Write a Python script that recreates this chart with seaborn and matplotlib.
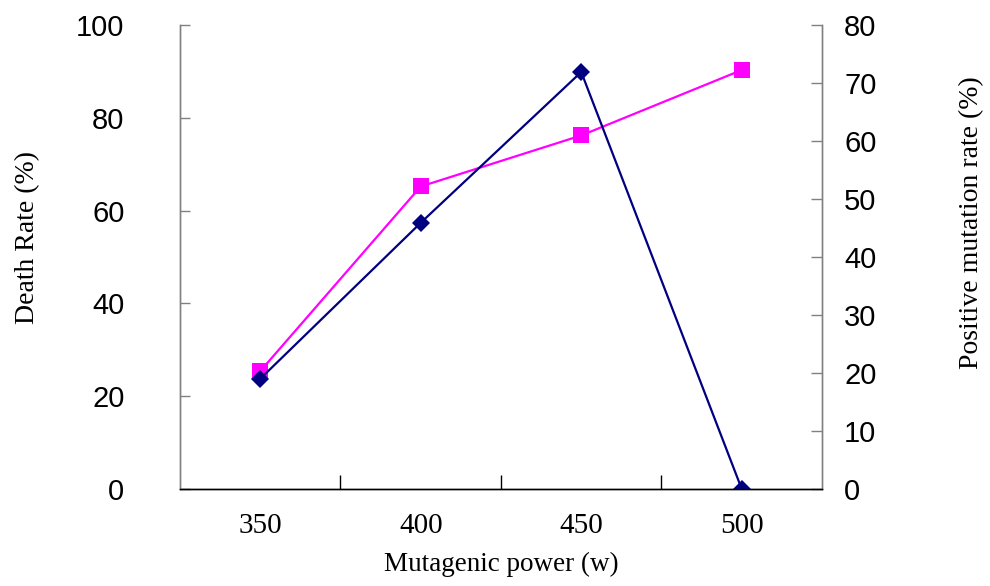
import pandas as pd
import seaborn as sns
import matplotlib.pyplot as plt
from matplotlib.ticker import FixedLocator

power = ['350', '400', '450', '500']
death_rate = [25.4, 65.2, 76.2, 90.3]
positive_rate = [19.0, 45.9, 71.9, 0.0]

df = pd.DataFrame({'power': power, 'death': death_rate, 'positive': positive_rate})

sns.set_theme(style='white', rc={'axes.grid': False, 'text.color': 'black',
                                 'xtick.color': 'black', 'ytick.color': 'black',
                                 'axes.labelcolor': 'black'})
plt.rcParams['font.family'] = ['Liberation Sans', 'DejaVu Sans']

fig = plt.figure(figsize=(9.9, 5.86), dpi=100)
ax = fig.add_axes([0.1818, 0.1655, 0.6485, 0.7918])

sns.lineplot(data=df, x='power', y='death', ax=ax, color='#FF00FF',
             marker='s', markersize=11, markeredgewidth=0, linewidth=1.6)
ax2 = ax.twinx()
sns.lineplot(data=df, x='power', y='positive', ax=ax2, color='#000080',
             marker='D', markersize=9.5, markeredgewidth=0, linewidth=1.6)

ax.set_xlim(-0.5, 3.5)
ax.set_ylim(0, 100)
ax.set_yticks(range(0, 101, 20))
ax2.set_ylim(0, 80)
ax2.set_yticks(range(0, 81, 10))

ax.set_xticks(range(len(power)))
ax.set_xticklabels(power, family='Liberation Serif', fontsize=21)
ax.xaxis.set_minor_locator(FixedLocator([0.5, 1.5, 2.5]))
ax.tick_params(axis='x', which='major', bottom=True, length=0, pad=17)
ax.tick_params(axis='x', which='minor', bottom=True, direction='in', length=10,
               width=1, color='black')
ax.tick_params(axis='y', left=True, direction='in', length=7, width=1,
               color='#808080', labelcolor='black', labelsize=21, pad=40)
ax2.tick_params(axis='y', right=True, direction='in', length=8, width=1,
                color='#808080', labelcolor='black', labelsize=21, pad=16)

for a in (ax, ax2):
    a.spines['top'].set_visible(False)
    a.spines['left'].set_color('#808080')
    a.spines['right'].set_color('#808080')
    a.spines['bottom'].set_color('black')
    for s in a.spines.values():
        s.set_linewidth(1)

ax.set_xlabel('Mutagenic power (w)', family='Liberation Serif', fontsize=19.5)
ax.set_ylabel('Death Rate (%)', family='Liberation Serif', fontsize=20)
ax2.set_ylabel('Positive mutation rate (%)', family='Liberation Serif', fontsize=20)
ax.xaxis.set_label_coords(0.5, -0.135)
ax.yaxis.set_label_coords(-0.218, 0.543)
ax2.yaxis.set_label_coords(1.213, 0.575)

fig.savefig('out.png', dpi=100)
